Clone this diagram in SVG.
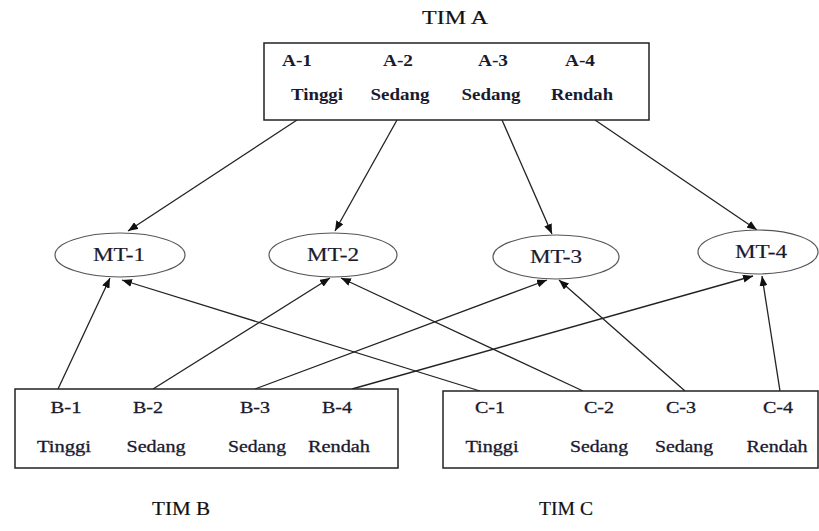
<svg xmlns="http://www.w3.org/2000/svg" width="819" height="531" viewBox="0 0 819 531">
<style>
.box{fill:#fff;stroke:#222;stroke-width:1.5}
.ell{fill:#fff;stroke:#555;stroke-width:1.2}
.t{font-family:"Liberation Serif",serif;font-size:16px;fill:#1a1a2e;text-anchor:middle;stroke:#1a1a2e;stroke-width:0.3}
.tb{font-weight:bold;stroke-width:0}
.mt{font-family:"Liberation Serif",serif;font-size:19px;fill:#1a1a2e;text-anchor:middle;stroke:#1a1a2e;stroke-width:0.2}
.tim{font-family:"Liberation Serif",serif;font-size:19px;fill:#111;text-anchor:middle;stroke:#111;stroke-width:0.2}
.c{stroke:#222;stroke-width:1.3;fill:none;marker-end:url(#ah)}
</style>
<defs>
<marker id="ah" markerUnits="userSpaceOnUse" markerWidth="10" markerHeight="8" refX="10" refY="4" orient="auto">
<path d="M0,0 L10,4 L0,8 Z" fill="#111"/>
</marker>
</defs>
<rect width="819" height="531" fill="#fff"/>
<g id="connectors">
<line class="c" x1="297" y1="120" x2="128" y2="231"/>
<line class="c" x1="397" y1="120" x2="335" y2="231"/>
<line class="c" x1="502" y1="120" x2="552" y2="234"/>
<line class="c" x1="595" y1="120" x2="757" y2="230"/>
<line class="c" x1="58" y1="389" x2="110" y2="278"/>
<line class="c" x1="153" y1="389" x2="330" y2="278"/>
<line class="c" x1="255" y1="389" x2="547" y2="280"/>
<line class="c" x1="352" y1="389" x2="753" y2="276"/>
<line class="c" x1="480" y1="391" x2="122" y2="280"/>
<line class="c" x1="583" y1="391" x2="341" y2="278"/>
<line class="c" x1="685" y1="391" x2="559" y2="280"/>
<line class="c" x1="780" y1="391" x2="762" y2="276"/>
</g>
<g id="timA">
<text class="tim" x="455" y="24" textLength="66" lengthAdjust="spacingAndGlyphs">TIM A</text>
<rect class="box" x="264" y="43" width="385" height="77"/>
<text class="t tb" x="297" y="66" textLength="30" lengthAdjust="spacingAndGlyphs">A-1</text>
<text class="t tb" x="398" y="66" textLength="30" lengthAdjust="spacingAndGlyphs">A-2</text>
<text class="t tb" x="493" y="66" textLength="30" lengthAdjust="spacingAndGlyphs">A-3</text>
<text class="t tb" x="580" y="66" textLength="30" lengthAdjust="spacingAndGlyphs">A-4</text>
<text class="t tb" x="317" y="100" textLength="52" lengthAdjust="spacingAndGlyphs">Tinggi</text>
<text class="t tb" x="400" y="100" textLength="59" lengthAdjust="spacingAndGlyphs">Sedang</text>
<text class="t tb" x="491" y="100" textLength="59" lengthAdjust="spacingAndGlyphs">Sedang</text>
<text class="t tb" x="582" y="100" textLength="62" lengthAdjust="spacingAndGlyphs">Rendah</text>
</g>
<g id="mt1"><ellipse class="ell" cx="120" cy="255" rx="65" ry="22"/><text class="mt" x="119" y="261" textLength="52" lengthAdjust="spacingAndGlyphs">MT-1</text></g>
<g id="mt2"><ellipse class="ell" cx="333" cy="255" rx="64" ry="22"/><text class="mt" x="333" y="261" textLength="52" lengthAdjust="spacingAndGlyphs">MT-2</text></g>
<g id="mt3"><ellipse class="ell" cx="556" cy="257" rx="63" ry="22"/><text class="mt" x="556" y="263" textLength="52" lengthAdjust="spacingAndGlyphs">MT-3</text></g>
<g id="mt4"><ellipse class="ell" cx="758" cy="252" rx="60" ry="22"/><text class="mt" x="761" y="258" textLength="52" lengthAdjust="spacingAndGlyphs">MT-4</text></g>
<g id="timB">
<rect class="box" x="15" y="389" width="383" height="79"/>
<text class="t" x="66" y="413" textLength="31" lengthAdjust="spacingAndGlyphs">B-1</text>
<text class="t" x="148" y="413" textLength="30" lengthAdjust="spacingAndGlyphs">B-2</text>
<text class="t" x="255" y="413" textLength="30" lengthAdjust="spacingAndGlyphs">B-3</text>
<text class="t" x="337" y="413" textLength="30" lengthAdjust="spacingAndGlyphs">B-4</text>
<text class="t" x="64" y="452" textLength="54" lengthAdjust="spacingAndGlyphs">Tinggi</text>
<text class="t" x="156" y="452" textLength="59" lengthAdjust="spacingAndGlyphs">Sedang</text>
<text class="t" x="257" y="452" textLength="58" lengthAdjust="spacingAndGlyphs">Sedang</text>
<text class="t" x="339" y="452" textLength="62" lengthAdjust="spacingAndGlyphs">Rendah</text>
<text class="tim" x="181" y="515" textLength="58" lengthAdjust="spacingAndGlyphs">TIM B</text>
</g>
<g id="timC">
<rect class="box" x="443" y="391" width="375" height="77"/>
<text class="t" x="490" y="413" textLength="30" lengthAdjust="spacingAndGlyphs">C-1</text>
<text class="t" x="599" y="413" textLength="30" lengthAdjust="spacingAndGlyphs">C-2</text>
<text class="t" x="681" y="413" textLength="30" lengthAdjust="spacingAndGlyphs">C-3</text>
<text class="t" x="778" y="413" textLength="30" lengthAdjust="spacingAndGlyphs">C-4</text>
<text class="t" x="492" y="452" textLength="53" lengthAdjust="spacingAndGlyphs">Tinggi</text>
<text class="t" x="599" y="452" textLength="58" lengthAdjust="spacingAndGlyphs">Sedang</text>
<text class="t" x="684" y="452" textLength="58" lengthAdjust="spacingAndGlyphs">Sedang</text>
<text class="t" x="777" y="452" textLength="61" lengthAdjust="spacingAndGlyphs">Rendah</text>
<text class="tim" x="566" y="515" textLength="54" lengthAdjust="spacingAndGlyphs">TIM C</text>
</g>
</svg>
